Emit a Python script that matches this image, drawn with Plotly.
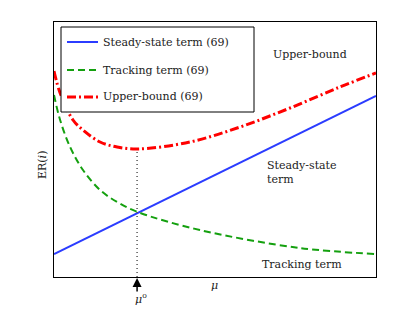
import plotly.graph_objects as go

# Data (arbitrary units)
mu_steady = [0.0, 1.0]
steady = [23, 181]

mu_track = [0.0, 0.019, 0.05, 0.09, 0.143, 0.196, 0.26, 0.453, 0.764, 1.0]
track = [182, 157, 130, 107, 87, 75, 65, 47, 29, 23]

mu_upper = [0.0, 0.019, 0.059, 0.09, 0.143, 0.196, 0.261, 0.422, 0.578, 0.733, 0.888, 1.0]
upper = [206, 184, 157, 147, 135, 130, 128, 135, 150, 169, 190, 204]

mu_opt = 0.258
upper_min = 128

names = ["Steady-state term (69)", "Tracking term (69)", "Upper-bound (69)"]
colors = ["#2b3cff", "#14a00f", "#ff0000"]
dashes = ["solid", "7px,4px", "9px,3px,2px,3px"]
widths = [2, 2, 3]

FONT = "DejaVu Serif, Liberation Serif, serif"
FS = 11

fig = go.Figure()
fig.add_trace(go.Scatter(x=mu_steady, y=steady, mode="lines",
                         line=dict(color=colors[0], width=widths[0], dash=dashes[0]),
                         name=names[0], showlegend=False))
fig.add_trace(go.Scatter(x=mu_track, y=track, mode="lines",
                         line=dict(color=colors[1], width=widths[1], dash=dashes[1], shape="spline"),
                         name=names[1], showlegend=False))
fig.add_trace(go.Scatter(x=mu_upper, y=upper, mode="lines",
                         line=dict(color=colors[2], width=widths[2], dash=dashes[2], shape="spline"),
                         name=names[2], showlegend=False))
# dotted vertical at optimum
fig.add_trace(go.Scatter(x=[mu_opt, mu_opt], y=[0, upper_min], mode="lines",
                         line=dict(color="#555555", width=1.5, dash="1px,3px"),
                         showlegend=False, hoverinfo="skip"))

# page body has an 8px margin; compensate so the plot area lands at 54..376, 22..277
OFF = 8
L, R, T, B = 54, 376, 22, 277
W, H = 415 - OFF, 312 - OFF
def px(x): return (x - L) / (R - L)
def py(y): return (B - y) / (B - T)

shapes = [dict(type="rect", xref="paper", yref="paper",
               x0=px(61), x1=px(254), y0=py(112), y1=py(27),
               line=dict(color="black", width=1), fillcolor="white", layer="above")]
annotations = []
rows = [42, 70, 97]
for i in range(3):
    shapes.append(dict(type="line", xref="paper", yref="paper",
                       x0=px(67), x1=px(98), y0=py(rows[i]), y1=py(rows[i]),
                       line=dict(color=colors[i], width=widths[i], dash=dashes[i]),
                       layer="above"))
    annotations.append(dict(xref="paper", yref="paper", x=px(101), y=py(rows[i]),
                            text=names[i], showarrow=False, xanchor="left", yanchor="middle",
                            font=dict(family=FONT, size=FS, color="#222")))

annotations += [
    dict(xref="paper", yref="paper", x=px(310), y=py(54), text="Upper-bound",
         showarrow=False, xanchor="center", yanchor="middle",
         font=dict(family=FONT, size=FS, color="#222")),
    dict(xref="paper", yref="paper", x=px(265), y=py(172), text="Steady-state<br>term",
         showarrow=False, xanchor="left", yanchor="middle", align="left",
         font=dict(family=FONT, size=FS, color="#222")),
    dict(xref="paper", yref="paper", x=px(302), y=py(264), text="Tracking term",
         showarrow=False, xanchor="center", yanchor="middle",
         font=dict(family=FONT, size=FS, color="#222")),
    dict(xref="paper", yref="paper", x=px(214), y=py(285), text="<i>μ</i>",
         showarrow=False, xanchor="center", yanchor="middle",
         font=dict(family=FONT, size=FS, color="#222")),
    dict(xref="paper", yref="paper", x=px(141), y=py(298), text="<i>μ</i><sup>o</sup>",
         showarrow=False, xanchor="center", yanchor="middle",
         font=dict(family=FONT, size=FS, color="#222")),
    dict(xref="x", yref="paper", x=mu_opt, y=py(278), ax=0, ay=15,
         text="", showarrow=True, arrowhead=2, arrowsize=1.2, arrowwidth=1.5,
         arrowcolor="black"),
    dict(xref="paper", yref="paper", x=px(42), y=py(165), text="ER(<i>i</i>)",
         showarrow=False, textangle=-90, xanchor="center", yanchor="middle",
         font=dict(family=FONT, size=FS, color="#222")),
]

fig.update_layout(
    width=W, height=H,
    margin=dict(l=L - OFF, r=415 - R, t=T - OFF, b=312 - B),
    paper_bgcolor="white", plot_bgcolor="white",
    font=dict(family=FONT, size=FS, color="#222"),
    shapes=shapes, annotations=annotations,
    xaxis=dict(range=[0, 1], showgrid=False, zeroline=False, showticklabels=False,
               ticks="", showline=True, linecolor="black", linewidth=1, mirror=True),
    yaxis=dict(range=[0, 255], showgrid=False, zeroline=False, showticklabels=False,
               ticks="", showline=True, linecolor="black", linewidth=1, mirror=True),
)

fig.write_html("out.html")
